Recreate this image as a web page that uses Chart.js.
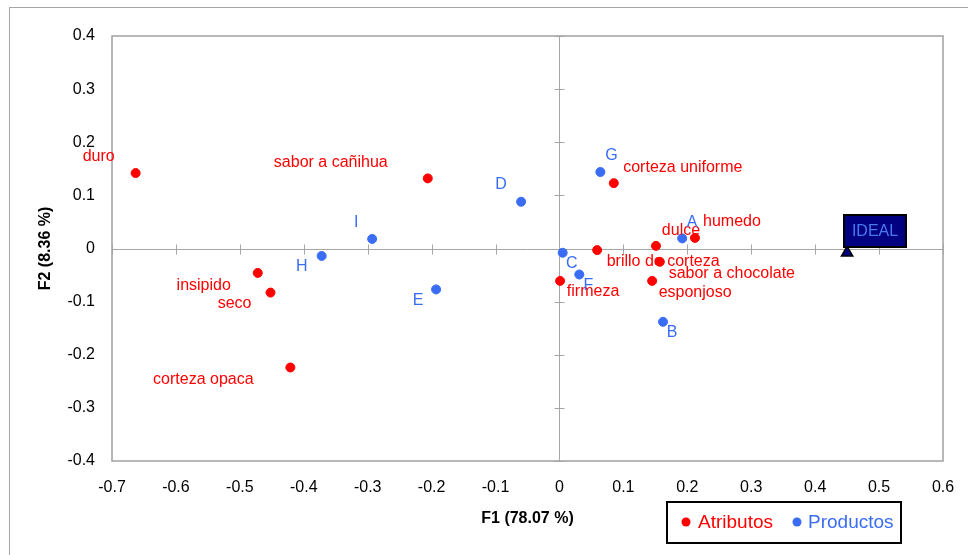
<!DOCTYPE html>
<html>
<head>
<meta charset="utf-8">
<script src="https://cdn.jsdelivr.net/npm/chart.js@4.4.1/dist/chart.umd.min.js"></script>
<style>
  html, body { margin: 0; padding: 0; background: #fff; }
  #wrap { width: 968px; height: 555px; position: relative; }
</style>
</head>
<body>
<div id="wrap"><canvas id="chart"></canvas></div>
<script>
// Atributos (variables)
const atributos = ["duro", "sabor a cañihua", "insipido", "seco", "corteza opaca", "corteza uniforme",
  "dulce", "humedo", "brillo de corteza", "sabor a chocolate", "esponjoso", "firmeza"];
const atribF1 = [-0.663, -0.206, -0.472, -0.452, -0.421, 0.085, 0.151, 0.212, 0.059, 0.157, 0.145, 0.001];
const atribF2 = [0.142, 0.132, -0.046, -0.083, -0.224, 0.123, 0.005, 0.020, -0.003, -0.025, -0.061, -0.061];

// Productos (observations)
const productos = ["A", "B", "C", "D", "E", "F", "G", "H", "I"];
const prodF1 = [0.192, 0.162, 0.005, -0.060, -0.193, 0.031, 0.064, -0.372, -0.293];
const prodF2 = [0.019, -0.138, -0.008, 0.088, -0.077, -0.049, 0.144, -0.014, 0.018];

// Ideal point
const idealF1 = [0.45];
const idealF2 = [-0.008];

const xTicks = [-0.7, -0.6, -0.5, -0.4, -0.3, -0.2, -0.1, 0, 0.1, 0.2, 0.3, 0.4, 0.5, 0.6];
const yTicks = [-0.4, -0.3, -0.2, -0.1, 0, 0.1, 0.2, 0.3, 0.4];

// label offset from the point (px, text centre)
const labelOffsets = {
  "duro": [-37, -16], "sabor a cañihua": [-97, -16], "insipido": [-54, 13], "seco": [-36, 11],
  "corteza opaca": [-87, 12], "corteza uniforme": [69, -16], "dulce": [25, -15], "humedo": [37, -16],
  "brillo de corteza": [66, 11], "sabor a chocolate": [72, 12], "esponjoso": [43, 12], "firmeza": [33, 11],
  "A": [10, -16], "B": [9, 11], "C": [9, 11], "D": [-20, -17], "E": [-18, 11], "F": [9, 11],
  "G": [11, -16], "H": [-20, 11], "I": [-16, -16]
};

const RED = "#ff0000";
const BLUE = "#3a6cf4";
const FONT = '"Liberation Sans", Arial, sans-serif';

const toPoints = (xs, ys) => xs.map((x, i) => ({ x: x, y: ys[i] }));

const framePlugin = {
  id: "frame",
  beforeDatasetsDraw(chart) {
    const ctx = chart.ctx;
    const a = chart.chartArea;
    const xs = chart.scales.x, ys = chart.scales.y;
    const x0 = Math.round(xs.getPixelForValue(0)) + 0.5;
    const y0 = Math.round(ys.getPixelForValue(0)) + 0.5;
    ctx.save();
    // outer border
    ctx.strokeStyle = "#a6a6a6";
    ctx.lineWidth = 1;
    ctx.strokeRect(9.5, 7.5, 1000, 600);
    // plot area border
    ctx.lineWidth = 1.5;
    ctx.strokeStyle = "#a0a0a0";
    ctx.strokeRect(a.left, a.top, a.right - a.left, a.bottom - a.top);
    // zero axes
    ctx.lineWidth = 1;
    ctx.strokeStyle = "#a6a6a6";
    ctx.beginPath();
    ctx.moveTo(a.left, y0); ctx.lineTo(a.right, y0);
    ctx.moveTo(x0, a.top); ctx.lineTo(x0, a.bottom);
    xTicks.forEach(v => {
      const px = Math.round(xs.getPixelForValue(v)) + 0.5;
      ctx.moveTo(px, y0 - 5); ctx.lineTo(px, y0 + 5);
    });
    yTicks.forEach(v => {
      const py = Math.round(ys.getPixelForValue(v)) + 0.5;
      ctx.moveTo(x0 - 5, py); ctx.lineTo(x0 + 5, py);
    });
    ctx.stroke();
    // axis titles
    ctx.fillStyle = "#000";
    ctx.font = "bold 16px " + FONT;
    ctx.textAlign = "center";
    ctx.textBaseline = "middle";
    ctx.fillText("F1 (78.07 %)", (a.left + a.right) / 2, 519);
    ctx.translate(46, (a.top + a.bottom) / 2);
    ctx.rotate(-Math.PI / 2);
    ctx.fillText("F2 (8.36 %)", 0, 0);
    ctx.restore();
  },
  afterDatasetsDraw(chart) {
    const ctx = chart.ctx;
    ctx.save();
    ctx.font = "16px " + FONT;
    ctx.textAlign = "center";
    ctx.textBaseline = "middle";
    chart.data.datasets.forEach((ds, i) => {
      if (!ds.names) return;
      const meta = chart.getDatasetMeta(i);
      ctx.fillStyle = ds.labelColor;
      meta.data.forEach((pt, j) => {
        const off = labelOffsets[ds.names[j]] || [0, 0];
        ctx.fillText(ds.names[j], pt.x + off[0], pt.y + off[1]);
      });
    });
    // IDEAL label box
    const ip = chart.getDatasetMeta(2).data[0];
    const bx = Math.round(ip.x) - 3, by = Math.round(ip.y) - 38;
    ctx.fillStyle = "#000080";
    ctx.fillRect(bx, by, 62, 32);
    ctx.lineWidth = 2;
    ctx.strokeStyle = "#000";
    ctx.strokeRect(bx, by, 62, 32);
    ctx.fillStyle = "#4a78f0";
    ctx.fillText("IDEAL", bx + 31, by + 17);
    // legend
    ctx.lineWidth = 2;
    ctx.strokeStyle = "#000";
    ctx.fillStyle = "#fff";
    ctx.fillRect(667, 502, 234, 41);
    ctx.strokeRect(667, 502, 234, 41);
    ctx.font = "19px " + FONT;
    ctx.textAlign = "left";
    ctx.fillStyle = RED;
    ctx.beginPath(); ctx.arc(686, 522, 4.5, 0, Math.PI * 2); ctx.fill();
    ctx.fillText("Atributos", 698, 523);
    ctx.fillStyle = BLUE;
    ctx.beginPath(); ctx.arc(797, 522, 4.5, 0, Math.PI * 2); ctx.fill();
    ctx.fillText("Productos", 808, 523);
    ctx.restore();
  }
};

new Chart(document.getElementById("chart"), {
  type: "scatter",
  data: {
    datasets: [
      {
        label: "Atributos",
        names: atributos,
        labelColor: RED,
        data: toPoints(atribF1, atribF2),
        backgroundColor: RED,
        borderColor: RED,
        pointRadius: 4.5,
        pointBorderWidth: 1,
      },
      {
        label: "Productos",
        names: productos,
        labelColor: BLUE,
        data: toPoints(prodF1, prodF2),
        backgroundColor: BLUE,
        borderColor: BLUE,
        pointRadius: 4.5,
        pointBorderWidth: 1,
      },
      {
        label: "IDEAL",
        data: toPoints(idealF1, idealF2),
        pointStyle: "triangle",
        backgroundColor: "#000080",
        borderColor: "#000",
        pointRadius: 6.5,
        pointBorderWidth: 1.5,
      },
    ],
  },
  options: {
    responsive: true,
    maintainAspectRatio: false,
    animation: false,
    layout: { padding: { top: 36, right: 25, left: 0, bottom: 0 } },
    plugins: {
      legend: { display: false },
      tooltip: { enabled: false },
    },
    scales: {
      x: {
        type: "linear",
        min: -0.7,
        max: 0.6,
        afterFit: (s) => { s.height = 94; s.paddingLeft = 0; s.paddingRight = 0; },
        afterBuildTicks: (s) => { s.ticks = xTicks.map(v => ({ value: v })); },
        grid: { display: false, drawTicks: false },
        border: { display: false },
        ticks: {
          padding: 17,
          color: "#000",
          font: { family: FONT, size: 16 },
          maxRotation: 0,
          callback: (v) => String(Number(v.toFixed(1))),
        },
      },
      y: {
        type: "linear",
        min: -0.4,
        max: 0.4,
        afterFit: (s) => { s.width = 112; s.paddingTop = 0; s.paddingBottom = 0; },
        afterBuildTicks: (s) => { s.ticks = yTicks.map(v => ({ value: v })); },
        grid: { display: false, drawTicks: false },
        border: { display: false },
        ticks: {
          padding: 17,
          color: "#000",
          font: { family: FONT, size: 16 },
          callback: (v) => String(Number(v.toFixed(1))),
        },
      },
    },
  },
  plugins: [framePlugin],
});
</script>
</body>
</html>
